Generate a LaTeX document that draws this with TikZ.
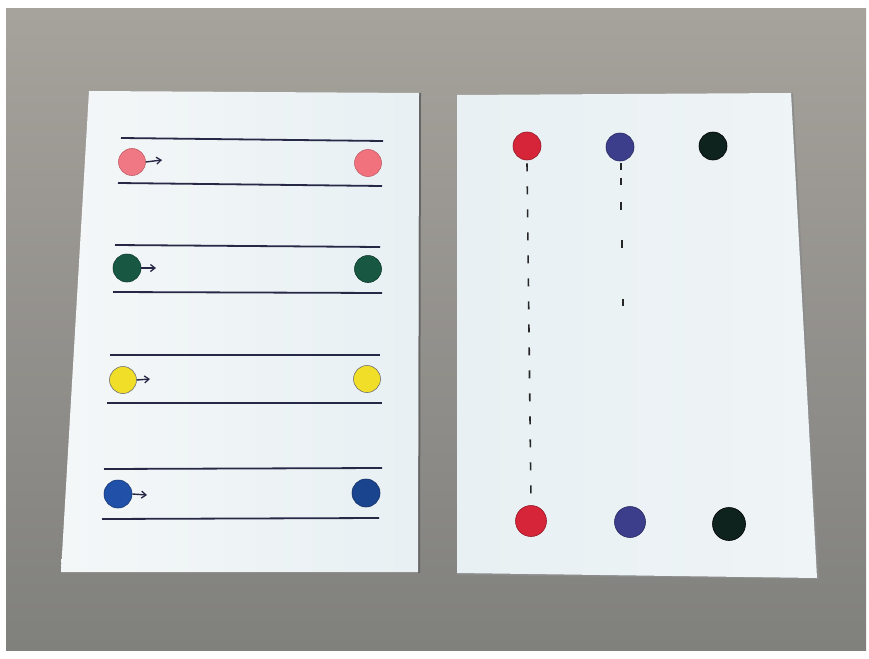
\documentclass[tikz,border=0pt]{standalone}
\usetikzlibrary{arrows.meta}
\definecolor{bgtop}{RGB}{166,162,156}
\definecolor{bgbot}{RGB}{128,128,125}
\definecolor{paperA}{RGB}{244,247,248}
\definecolor{paperB}{RGB}{232,240,243}
\definecolor{ink}{RGB}{38,40,70}
\definecolor{pinkdot}{RGB}{240,120,132}
\definecolor{greendot}{RGB}{24,88,66}
\definecolor{yellowdot}{RGB}{240,222,40}
\definecolor{bluedot}{RGB}{32,80,168}
\definecolor{reddot}{RGB}{214,36,56}
\definecolor{navydot}{RGB}{60,62,140}
\definecolor{blackdot}{RGB}{14,34,30}
\tikzset{
  dot/.style={circle,inner sep=0pt,minimum size=27pt,line width=0.6pt},
  rail/.style={draw=ink,line width=1.8pt},
  push/.style={draw=ink,line width=1.4pt,-{Straight Barb[length=4.5pt,width=7pt,line width=1.3pt]}},
  track/.style={draw=black!85,line width=1.6pt},
}
\begin{document}
\begin{tikzpicture}[x=1pt,y=-1pt]
\useasboundingbox (0,0) rectangle (869,658);
\fill[white] (0,0) rectangle (869,658);
% table surface
\shade[top color=bgtop,bottom color=bgbot] (6,9) rectangle (866,650);
% left sheet
\fill[black!60] (419,93) -- (421,93) -- (420,573) -- (418,573) -- cycle;
\shade[left color=paperA,right color=paperB] (89,91) -- (419,93) -- (418,572) -- (61,572) -- cycle;
% right sheet
\fill[black!45] (791,93) -- (793,93) -- (819,579) -- (457,575) -- (457,573) -- (817,578) -- cycle;
\shade[left color=paperB,right color=paperA!60!paperB] (457,95) -- (791,93) -- (817,578) -- (457,573) -- cycle;

% left sheet rails
\coordinate (r1a) at (121,138); \coordinate (r1b) at (383,141);
\coordinate (r2a) at (118,183); \coordinate (r2b) at (382,186);
\coordinate (r3a) at (115,245); \coordinate (r3b) at (380,247);
\coordinate (r4a) at (113,292); \coordinate (r4b) at (382,293);
\coordinate (r5a) at (110,355); \coordinate (r5b) at (380,355);
\coordinate (r6a) at (107,403); \coordinate (r6b) at (382,403);
\coordinate (r7a) at (104,469); \coordinate (r7b) at (382,468);
\coordinate (r8a) at (102,519); \coordinate (r8b) at (379,518);
\draw[rail] (r1a) -- (r1b);
\draw[rail] (r2a) -- (r2b);
\draw[rail] (r3a) -- (r3b);
\draw[rail] (r4a) -- (r4b);
\draw[rail] (r5a) -- (r5b);
\draw[rail] (r6a) -- (r6b);
\draw[rail] (r7a) -- (r7b);
\draw[rail] (r8a) -- (r8b);

% left sheet dots
\node[dot,fill=pinkdot,draw=pinkdot!80!black] (p1) at (132,162) {};
\node[dot,fill=pinkdot!95!red,draw=pinkdot!80!black] (p2) at (368,163) {};
\node[dot,fill=greendot,draw=greendot!70!black,minimum size=28pt] (g1) at (127,268) {};
\node[dot,fill=greendot,draw=greendot!70!black] (g2) at (368,269) {};
\node[dot,fill=yellowdot,draw=black!55] (y1) at (123,380) {};
\node[dot,fill=yellowdot,draw=black!55] (y2) at (367,379) {};
\node[dot,fill=bluedot,draw=bluedot!70!black,minimum size=28pt] (b1) at (118,494) {};
\node[dot,fill=bluedot!85!black,draw=bluedot!60!black,minimum size=28pt] (b2) at (366,493) {};

\coordinate (pa) at (162,160);
\coordinate (ga) at (156,268);
\coordinate (ya) at (150,379);
\coordinate (ba) at (147,495);
\draw[push] (p1.east) -- (pa);
\draw[push] (g1.east) -- (ga);
\draw[push] (y1.east) -- (ya);
\draw[push] (b1.east) -- (ba);

% right sheet dots
\node[dot,fill=reddot,draw=reddot!70!black,minimum size=28pt] (rt) at (527,146) {};
\node[dot,fill=navydot,draw=navydot!70!black,minimum size=28pt] (nt) at (620,147) {};
\node[dot,fill=blackdot,draw=black,minimum size=28pt] (kt) at (713,146) {};
\node[dot,fill=reddot,draw=reddot!70!black,minimum size=31pt] (rb) at (531,521) {};
\node[dot,fill=navydot,draw=navydot!70!black,minimum size=31pt] (nb) at (630,522) {};
\node[dot,fill=blackdot,draw=black,minimum size=33pt] (kb) at (729,524) {};

% red dashed track
\draw[track,dash pattern=on 8pt off 15pt] ([yshift=-3pt]rt.south) -- ([yshift=3pt]rb.north);

% navy sparse track
\coordinate (n1a) at (621,163); \coordinate (n1b) at (621,170);
\coordinate (n2a) at (621,178); \coordinate (n2b) at (621,185);
\coordinate (n3a) at (621,202); \coordinate (n3b) at (621,210);
\coordinate (n4a) at (622,240); \coordinate (n4b) at (622,248);
\coordinate (n5a) at (623,299); \coordinate (n5b) at (623,306);
\draw[track] (n1a) -- (n1b);
\draw[track] (n2a) -- (n2b);
\draw[track] (n3a) -- (n3b);
\draw[track] (n4a) -- (n4b);
\draw[track] (n5a) -- (n5b);
\end{tikzpicture}
\end{document}
